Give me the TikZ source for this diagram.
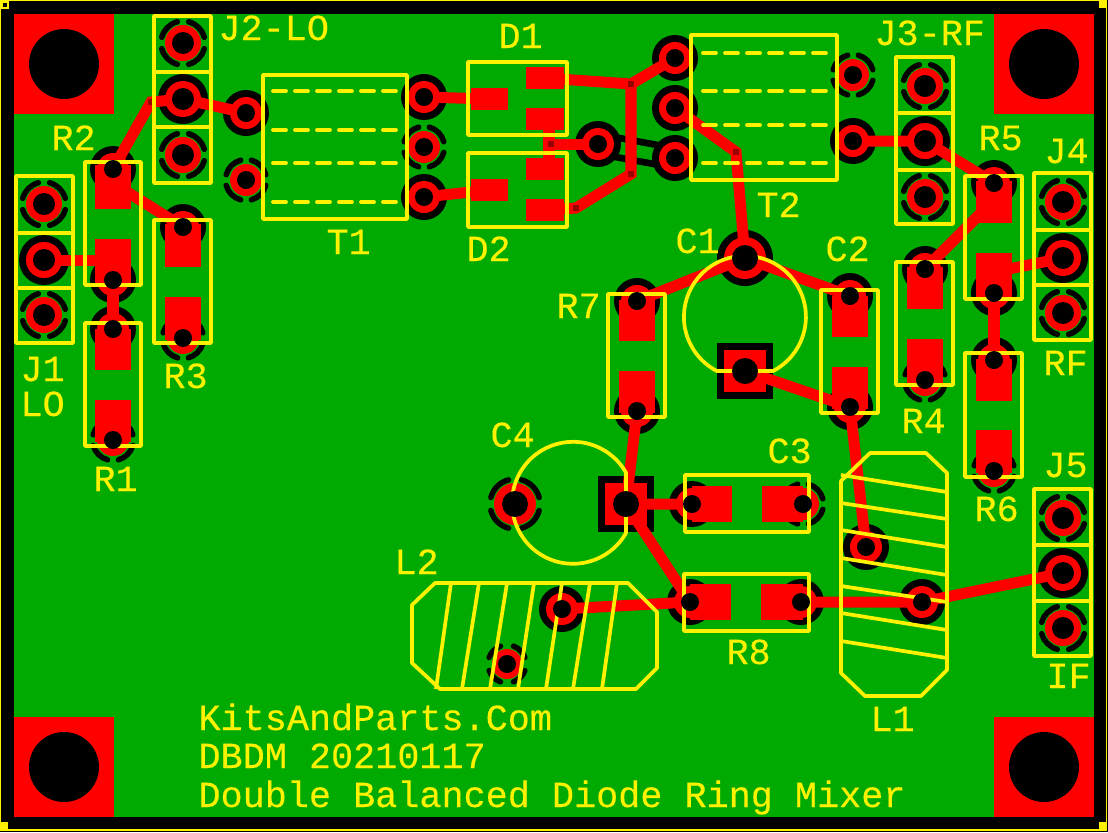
\documentclass[tikz,border=0pt]{standalone}
\usepackage{fontspec}
\setmonofont[FakeBold=0.25]{Liberation Mono}
\definecolor{board}{HTML}{00AA00}
\definecolor{viared}{HTML}{990000}

\begin{document}
\begin{tikzpicture}[x=0.01cm,y=-0.01cm,
    track/.style={draw=red,line width=0.11cm},
    copper/.style={fill=red},
    silk/.style={draw=yellow,line width=0.037cm,line join=round},
    relief/.style={draw=black,line width=0.055cm,line cap=round},
    legend/.style={text=yellow,anchor=base west,inner sep=0pt,outer sep=0pt,xshift=-0.015cm,font=\fontsize{10.47pt}{12pt}\selectfont\ttfamily}]
\fill[black] (0,0) rectangle (1108,832);
\useasboundingbox (0,0) rectangle (1108,832);
\fill[board] (14,14) rectangle (1094,817);

% frame and corner marks
\draw[yellow,line width=0.012cm] (0.6,829) -- (0.6,0.6) -- (1106.5,0.6) -- (1106.5,822);
\draw[yellow,line width=0.022cm] (8,830) -- (1107,830);
\draw[yellow,line width=0.02cm] (1.5,1.5) rectangle (8,8);
\fill[yellow] (1099,0) rectangle (1107,8);
\fill[yellow] (1099,822) rectangle (1107,829);
\fill[yellow] (0,822) rectangle (8,831);

% mounting pads
\foreach \x/\y in {14/14,994/14,14/717,994/717} {
  \fill[copper] (\x,\y) rectangle ++(100,100);
  \fill[black] (\x+50,\y+50) circle[radius=35];
}

% connectors
\coordinate (J1a) at (44,204);
\coordinate (J1b) at (44,260);
\coordinate (J1c) at (44,315);
\coordinate (J2a) at (183,43);
\coordinate (J2b) at (183,99);
\coordinate (J2c) at (183,155);
\coordinate (J3a) at (925,86);
\coordinate (J3b) at (925,141);
\coordinate (J3c) at (925,197);
\coordinate (J4a) at (1063,202);
\coordinate (J4b) at (1063,258);
\coordinate (J4c) at (1063,313);
\coordinate (J5a) at (1063,518);
\coordinate (J5b) at (1063,573);
\coordinate (J5c) at (1063,628);
% transformers
\coordinate (T1a) at (246,113);
\coordinate (T1b) at (246,180);
\coordinate (T1c) at (424,97);
\coordinate (T1d) at (424,147);
\coordinate (T1e) at (424,197);
\coordinate (T2a) at (675,58);
\coordinate (T2b) at (675,108);
\coordinate (T2c) at (675,158);
\coordinate (T2d) at (853,75);
\coordinate (T2e) at (853,141);
\coordinate (Dmid) at (598,144);
% resistors and small caps
\coordinate (R1a) at (113,329);
\coordinate (R1b) at (113,440);
\coordinate (R2a) at (113,169);
\coordinate (R2b) at (113,280);
\coordinate (R3a) at (183,227);
\coordinate (R3b) at (183,338);
\coordinate (R4a) at (925,269);
\coordinate (R4b) at (925,380);
\coordinate (R5a) at (994,183);
\coordinate (R5b) at (994,293);
\coordinate (R6a) at (994,360);
\coordinate (R6b) at (994,471);
\coordinate (R7a) at (637,301);
\coordinate (R7b) at (637,411);
\coordinate (C2a) at (850,296);
\coordinate (C2b) at (850,407);
\coordinate (C3a) at (692,504);
\coordinate (C3b) at (803,504);
\coordinate (R8a) at (690,602);
\coordinate (R8b) at (801,602);
% electrolytics
\coordinate (C1a) at (745,258);
\coordinate (C1b) at (745,371);
\coordinate (C4a) at (515,504);
\coordinate (C4b) at (626,504);
% coils
\coordinate (L1a) at (866,547);
\coordinate (L1b) at (922,602);
\coordinate (L2a) at (562,609);
\coordinate (L2b) at (507,664);
% vias
\coordinate (V1) at (151,102);
\coordinate (V2) at (631,84);
\coordinate (V3) at (631,174);
\coordinate (V4) at (551,144);
\coordinate (V5) at (576,208);
\coordinate (V6) at (736,152);

% link in the pour
\draw[black,line width=0.26cm] (Dmid) -- (T2c);
\draw[board,line width=0.125cm] (Dmid) -- (T2c);

% clearance
\foreach \p in {J1b,J2b,J3b,J4b,J5b} \fill[black] (\p) circle[radius=25];
\foreach \p in {T1a,T1c,T1e,T2a,T2b,T2c,T2e,Dmid,R1a,R2a,R2b,R3a,R4a,R5a,R5b,R6a,R7a,R7b,C2a,C2b,C3a,R8a,R8b,L1a,L1b,L2a}
  \fill[black] (\p) circle[radius=23];
\fill[black] (C1a) circle[radius=28];
\fill[black] (717,343) rectangle (773,399);
\fill[black] (598,476) rectangle (654,532);

% thermal reliefs
\foreach \p in {J1a,J1c,J2a,J2c,J3a,J3c,J4a,J4c,J5a,J5c}
  \foreach \a in {15,105,195,285} \draw[relief] (\p) ++(\a:22) arc[start angle=\a,delta angle=60,radius=22];
\foreach \p in {T1b,T1d,T2d,R1b,R3b,R4b,R6b,C3b}
  \foreach \a in {15,105,195,285} \draw[relief] (\p) ++(\a:20.5) arc[start angle=\a,delta angle=60,radius=20.5];
\foreach \a in {15,105,195,285} \draw[relief] (C4a) ++(\a:25) arc[start angle=\a,delta angle=60,radius=25];
\foreach \a in {20,110,200,290} \draw[relief] (L2b) ++(\a:19) arc[start angle=\a,delta angle=50,radius=19];

% tracks
\draw[track] (J1b) -- (R2b |- J1b);
\draw[track] (R2a) -- (V1) -- (J2b) -- (T1a);
\draw[track] (113,183) -- (R3a);
\draw[track] (R2b) -- (R1a);
\draw[track] (T1c) -- (490,99);
\draw[track] (T1e) -- (490,190);
\draw[track] (545,78) -- (V2) -- (T2a);
\draw[track] (V2) -- (V3) -- (V5) -- (545,210);
\draw[track] (549,119) -- (V4 -| 549,0) -- (549,169);
\draw[track] (V4) -- (Dmid);
\draw[track] (T2b) -- (V6) -- (C1a);
\draw[track] (T2e) -- (J3b) -- (R5a);
\draw[track] (994,200) -- (R4a);
\draw[track] (994,272) -- (J4b);
\draw[track] (R5b) -- (R6a);
\draw[track] (R7a) -- (C1a) -- (C2a);
\draw[track] (C1b) -- (C2b) -- (L1a);
\draw[track] (R7b) -- (C4b) -- (C3a);
\draw[track] (C4b) -- (R8a) -- (L2a);
\draw[track] (R8b) -- (L1b) -- (J5b);

% pads
\foreach \p in {J1a,J1b,J1c,J2a,J2b,J2c,J3a,J3b,J3c,J4a,J4b,J4c,J5a,J5b,J5c}
  \fill[copper] (\p) circle[radius=18];
\foreach \p in {T1a,T1b,T1c,T1d,T1e,T2a,T2b,T2c,T2d,T2e,Dmid,R1a,R1b,R2a,R2b,R3a,R3b,R4a,R4b,R5a,R5b,R6a,R6b,R7a,R7b,C2a,C2b,C3a,C3b,R8a,R8b,L1a,L1b,L2a}
  \fill[copper] (\p) circle[radius=16];
\fill[copper] (L2b) circle[radius=15];
\fill[copper] (C1a) circle[radius=21];
\fill[copper] (C4a) circle[radius=21];
\fill[copper] (724,350) rectangle (766,392);
\fill[copper] (605,483) rectangle (647,525);

% smd lands
\fill[copper] (95,165) rectangle (131,209);
\fill[copper] (95,239) rectangle (131,283);
\fill[copper] (95,329) rectangle (131,370);
\fill[copper] (95,400) rectangle (131,442);
\fill[copper] (165,224) rectangle (201,267);
\fill[copper] (165,297) rectangle (201,340);
\fill[copper] (907,267) rectangle (943,309);
\fill[copper] (907,339) rectangle (943,383);
\fill[copper] (976,181) rectangle (1012,223);
\fill[copper] (976,253) rectangle (1012,297);
\fill[copper] (976,359) rectangle (1012,401);
\fill[copper] (976,430) rectangle (1012,473);
\fill[copper] (619,300) rectangle (655,341);
\fill[copper] (619,371) rectangle (655,413);
\fill[copper] (832,296) rectangle (868,337);
\fill[copper] (832,367) rectangle (868,409);
\fill[copper] (692,486) rectangle (732,522);
\fill[copper] (762,486) rectangle (803,522);
\fill[copper] (690,584) rectangle (731,620);
\fill[copper] (761,584) rectangle (803,620);
\fill[copper] (471,88) rectangle (508,110);
\fill[copper] (526,67) rectangle (564,89);
\fill[copper] (526,108) rectangle (564,130);
\fill[copper] (471,179) rectangle (508,201);
\fill[copper] (526,158) rectangle (564,180);
\fill[copper] (526,199) rectangle (564,221);

% via marks
\foreach \p in {V1,V2,V3,V4,V5,V6} \fill[viared] (\p) ++(-3,-3) rectangle ++(6,6);

% silk: headers
\draw[silk] (16,176) rectangle (73,343);
\draw[silk] (16,233) -- (73,233);
\draw[silk] (16,288) -- (73,288);
\draw[silk] (154,16) rectangle (211,183);
\draw[silk] (154,72) -- (211,72);
\draw[silk] (154,127) -- (211,127);
\draw[silk] (896,57) rectangle (953,224);
\draw[silk] (896,113) -- (953,113);
\draw[silk] (896,170) -- (953,170);
\draw[silk] (1034,173) rectangle (1091,340);
\draw[silk] (1034,230) -- (1091,230);
\draw[silk] (1034,285) -- (1091,285);
\draw[silk] (1034,489) rectangle (1091,656);
\draw[silk] (1034,545) -- (1091,545);
\draw[silk] (1034,601) -- (1091,601);

% silk: resistors
\draw[silk] (85,162) rectangle (141,285);
\draw[silk] (85,323) rectangle (141,446);
\draw[silk] (154,220) rectangle (211,343);
\draw[silk] (896,262) rectangle (953,385);
\draw[silk] (965,176) rectangle (1022,299);
\draw[silk] (965,353) rectangle (1022,477);
\draw[silk] (608,294) rectangle (665,417);
\draw[silk] (821,290) rectangle (878,413);
\draw[silk] (685,475) rectangle (809,532);
\draw[silk] (684,574) rectangle (809,631);

% silk: diodes
\draw[silk] (468,62) rectangle (567,135);
\draw[silk] (468,153) rectangle (567,227);

% silk: transformers
\draw[silk] (263,75) rectangle (407,219);
\draw[silk] (691,35) rectangle (837,180);
\foreach \y in {91,130,163,202}
  \foreach \x in {273,295,317,339,361,383} \draw[silk,line cap=round] (\x,\y) -- ++(13,0);
\foreach \y in {53,91,125,163}
  \foreach \x in {703,725,747,769,791,813} \draw[silk,line cap=round] (\x,\y) -- ++(13,0);

% silk: electrolytics
\draw[silk] (773,371) arc[start angle=62.6,delta angle=-305.2,radius=61] -- cycle;
\draw[silk] (626,533) arc[start angle=29.7,delta angle=300.6,radius=61] -- cycle;

% silk: coils
\draw[silk] (870,453) -- (926,453) -- (947,473) -- (947,670) -- (921,696) -- (865,696) -- (841,673) -- (841,481) -- cycle;
\foreach \a/\b in {475/492,503/519,530/547,558/575,586/602,613/630,641/658}
  \draw[silk] (841,\a) -- (947,\b);
\draw[silk] (435,583) -- (628,583) -- (657,612) -- (657,668) -- (636,689) -- (440,689) -- (412,663) -- (412,605) -- cycle;
\foreach \a/\b in {451/436,479/462,507/490,534/518,562/546,590/573,617/602}
  \draw[silk] (\a,583) -- (\b,689);

% drill holes
\foreach \p in {J1a,J1b,J1c,J2a,J2b,J2c,J3a,J3b,J3c,J4a,J4b,J4c,J5a,J5b,J5c}
  \fill[black] (\p) circle[radius=11];
\foreach \p in {T1a,T1b,T1c,T1d,T1e,T2a,T2b,T2c,T2d,T2e,Dmid,R1a,R1b,R2a,R2b,R3a,R3b,R4a,R4b,R5a,R5b,R6a,R6b,R7a,R7b,C2a,C2b,C3a,C3b,R8a,R8b,L1a,L1b,L2a,L2b}
  \fill[black] (\p) circle[radius=9];
\foreach \p in {C1a,C1b,C4a,C4b} \fill[black] (\p) circle[radius=13];

% labels
\node[legend] (lblJ1) at (22,381) {J1};
\node[legend] (lblLO) at (22,416) {LO};
\node[legend] (lblJ2) at (220,40) {J2-LO};
\node[legend] (lblJ3) at (876,45) {J3-RF};
\node[legend] (lblJ4) at (1046,163) {J4};
\node[legend] (lblRF) at (1045,375) {RF};
\node[legend] (lblJ5) at (1045,477) {J5};
\node[legend] (lblIF) at (1048,688) {IF};
\node[legend] (lblR1) at (95,491) {R1};
\node[legend] (lblR2) at (53,150) {R2};
\node[legend] (lblR3) at (165,388) {R3};
\node[legend] (lblR4) at (903,433) {R4};
\node[legend] (lblR5) at (980,150) {R5};
\node[legend] (lblR6) at (976,521) {R6};
\node[legend] (lblR7) at (558,318) {R7};
\node[legend] (lblR8) at (728,664) {R8};
\node[legend] (lblT1) at (328,254) {T1};
\node[legend] (lblT2) at (758,217) {T2};
\node[legend] (lblD1) at (500,48) {D1};
\node[legend] (lblD2) at (468,261) {D2};
\node[legend] (lblC1) at (677,253) {C1};
\node[legend] (lblC2) at (827,261) {C2};
\node[legend] (lblC3) at (769,463) {C3};
\node[legend] (lblC4) at (492,447) {C4};
\node[legend] (lblL1) at (872,731) {L1};
\node[legend] (lblL2) at (396,574) {L2};
\node[legend] (lblKit) at (200,730) {KitsAndParts.Com};
\node[legend] (lblRev) at (200,768) {DBDM 20210117};
\node[legend] (lblName) at (200,807) {Double Balanced Diode Ring Mixer};
\end{tikzpicture}
\end{document}
